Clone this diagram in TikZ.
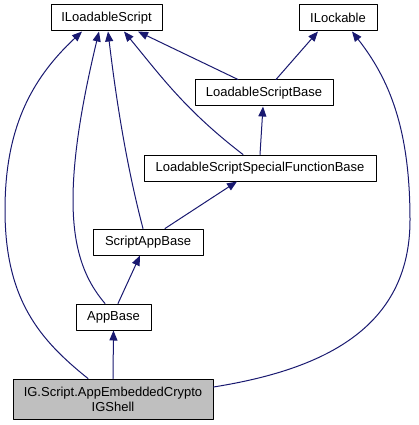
\documentclass[tikz,border=0pt]{standalone}
\usepackage{fontspec}
\setmainfont{Liberation Sans}
\usetikzlibrary{arrows.meta}
\definecolor{edgeblue}{HTML}{191970}
\definecolor{leafgray}{HTML}{BFBFBF}

\begin{document}
\begin{tikzpicture}[x=1pt, y=-1pt, line cap=round, line join=round,
  cls/.style={draw=black, line width=1pt, fill=white, inner sep=0pt,
    minimum height=26pt, font=\fontsize{13}{15}\selectfont, align=center},
  inherit/.style={draw=edgeblue, line width=1pt,
    {Triangle[length=10pt,width=8pt,fill=edgeblue]}-}]

\useasboundingbox (0,0) rectangle (419,425);

% classes
\node[cls, minimum width=111pt] (iscript) at (106.5,18) {ILoadableScript};
\node[cls, minimum width=78pt]  (ilock)   at (338,18)   {ILockable};
\node[cls, minimum width=138pt] (lsbase)  at (264,93)   {LoadableScriptBase};
\node[cls, minimum width=232pt] (lssfb)   at (260,168)  {LoadableScriptSpecialFunctionBase};
\node[cls, minimum width=110pt] (sabase)  at (148,242)  {ScriptAppBase};
\node[cls, minimum width=75pt]  (appbase) at (113.5,317) {AppBase};
\node[cls, minimum width=200pt, minimum height=40pt, fill=leafgray] (shell) at (113,399)
  {IG.Script.AppEmbeddedCrypto\\IGShell};

% straight inheritance edges: parent/shift/child/shift
\foreach \p/\ps/\c/\cs in {iscript/31.5/lsbase/-26, ilock/-20/lsbase/12,
                           lsbase/-1/lssfb/0, lssfb/-23/sabase/17,
                           sabase/-8/appbase/4.5, appbase/0/shell/0}
  \draw[inherit] ([xshift=\ps pt]\p.south) -- ([xshift=\cs pt]\c.north);

% curved inheritance edges
\draw[inherit] ([xshift=17.5pt]iscript.south)
  .. controls (160,75) and (185,110) .. ([xshift=-17pt]lssfb.north);
\draw[inherit] ([xshift=1.5pt]iscript.south)
  .. controls (115,90) and (125,160) .. ([xshift=-5pt]sabase.north);
\draw[inherit] ([xshift=-7.5pt]iscript.south)
  .. controls (85,90) and (73,150) .. (73,200)
  .. controls (73,250) and (85,280) .. ([xshift=-8.5pt]appbase.north);
\draw[inherit] ([xshift=-24.5pt]iscript.south)
  .. controls (30,80) and (5,130) .. (5,210)
  .. controls (5,300) and (40,340) .. ([xshift=-25pt]shell.north);
\draw[inherit] ([xshift=14pt]ilock.south)
  .. controls (390,80) and (410,130) .. (410,220)
  .. controls (410,330) and (320,370) .. ([yshift=12pt]shell.east);

\end{tikzpicture}
\end{document}
